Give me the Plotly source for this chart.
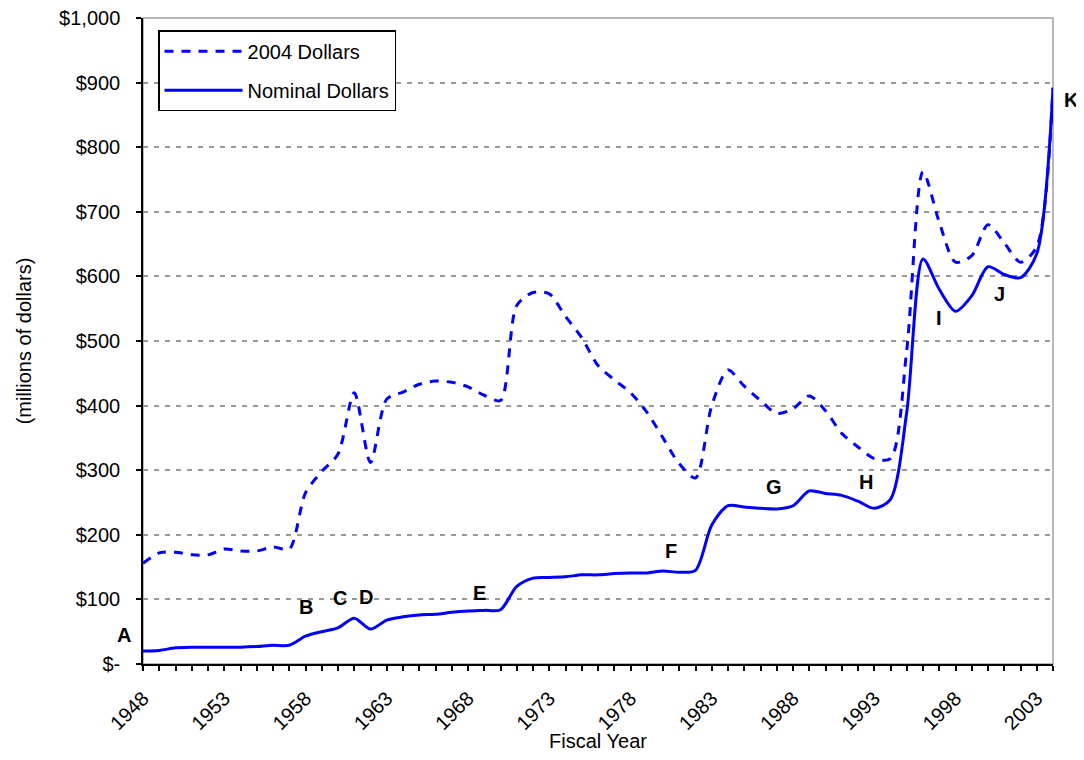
import plotly.graph_objects as go


years = list(range(1948, 2005))

dollars_2004 = [
    156, 172, 173, 169, 169, 178, 175, 175, 181, 178,
    265, 298, 325, 420, 312, 410, 421, 433, 438, 436,
    429, 416, 408, 555, 575, 573, 538, 505, 462, 440,
    420, 390, 350, 310, 288, 400, 455, 430, 408, 388,
    395, 415, 392, 357, 336, 318, 318, 486, 762, 684,
    622, 632, 680, 652, 622, 646, 892,
]

nominal_dollars = [
    20, 21, 25, 26, 26, 26, 26, 27, 29, 29,
    43, 50, 56, 71, 54, 68, 73, 76, 77, 80,
    82, 83, 84, 120, 133, 134, 135, 138, 138, 140,
    141, 141, 144, 142, 145, 215, 245, 243, 241, 240,
    245, 268, 264, 261, 252, 241, 255, 390, 627, 580,
    546, 570, 615, 603, 598, 635, 892,
]

# letter markers along the nominal line
marker_letters = ["A", "B", "C", "D", "E", "F", "G", "H", "I", "J", "K"]
marker_years = [1948, 1958, 1960.1, 1961.7, 1968.7, 1980.5, 1986.8, 1992.5, 1997.0, 2000.7, 2004]
marker_values = [45, 88, 102, 104, 110, 175, 274, 282, 536, 572, 873]

y_ticks = list(range(0, 1001, 100))
y_labels = ["$-"] + [f"${v:,}" for v in y_ticks[1:]]
x_ticks = list(range(1948, 2004, 5))

FONT = "Liberation Sans, Arial, sans-serif"
BLUE = "#0000ff"
TXT = 20

fig = go.Figure()
fig.add_trace(
    go.Scatter(
        x=years,
        y=dollars_2004,
        mode="lines",
        name="2004 Dollars",
        legendgroup="real",
        line={"color": BLUE, "width": 3, "dash": "9px,8px", "shape": "spline", "smoothing": 0.8},
    )
)
fig.add_trace(
    go.Scatter(
        x=years,
        y=nominal_dollars,
        mode="lines",
        name="Nominal Dollars",
        legendgroup="nominal",
        line={"color": BLUE, "width": 3, "shape": "spline", "smoothing": 0.8},
    )
)

for letter, yr, val in zip(marker_letters, marker_years, marker_values):
    shift = 0
    if letter == "A":
        shift = -19
    elif letter == "K":
        shift = 18
    fig.add_annotation(
        x=yr,
        y=val,
        text=f"<b>{letter}</b>",
        showarrow=False,
        xshift=shift,
        font={"family": FONT, "size": 20, "color": "black"},
    )

# grey plot-area border (top / right)
fig.add_shape(
    type="rect",
    xref="paper",
    yref="paper",
    x0=0,
    y0=0,
    x1=1,
    y1=1,
    line={"color": "#a0a0a0", "width": 1.5},
    layer="below",
)

fig.update_layout(
    width=1076,
    height=744,
    paper_bgcolor="white",
    plot_bgcolor="white",
    margin={"l": 135, "r": 31, "t": 10, "b": 88},
    font={"family": FONT, "size": TXT, "color": "black"},
    showlegend=True,
    legend={
        "x": 0.0165,
        "y": 0.981,
        "xanchor": "left",
        "yanchor": "top",
        "bordercolor": "black",
        "borderwidth": 1.5,
        "bgcolor": "white",
        "font": {"family": FONT, "size": TXT, "color": "black"},
        "itemwidth": 78,
        "traceorder": "grouped",
        "tracegroupgap": 10,
    },
)
fig.update_xaxes(
    range=[1948, 2004],
    tickvals=x_ticks,
    ticktext=[str(t) for t in x_ticks],
    tickangle=-45,
    ticks="outside",
    ticklen=5,
    tickwidth=1.5,
    tickcolor="black",
    ticklabelstandoff=8,
    minor={"ticks": "outside", "dtick": 1, "tick0": 1948, "ticklen": 5, "tickwidth": 1.5, "tickcolor": "black"},
    showline=True,
    linecolor="black",
    linewidth=1.5,
    showgrid=False,
    zeroline=False,
    automargin=False,
    ticklabeloverflow="allow",
    title={"text": "Fiscal Year", "font": {"size": TXT}, "standoff": 6},
    tickfont={"size": TXT},
)
fig.update_yaxes(
    range=[0, 1000],
    tickvals=y_ticks,
    ticktext=y_labels,
    ticks="outside",
    ticklen=5,
    tickwidth=1.5,
    tickcolor="black",
    ticklabelstandoff=12,
    ticklabeloverflow="allow",
    showline=True,
    linecolor="black",
    linewidth=1.5,
    showgrid=True,
    gridcolor="#999999",
    griddash="5px,6px",
    gridwidth=1.5,
    zeroline=False,
    automargin=False,
    title={"text": "(millions of dollars)", "font": {"size": TXT}, "standoff": 22},
    tickfont={"size": TXT},
)

fig.write_html("out.html")
